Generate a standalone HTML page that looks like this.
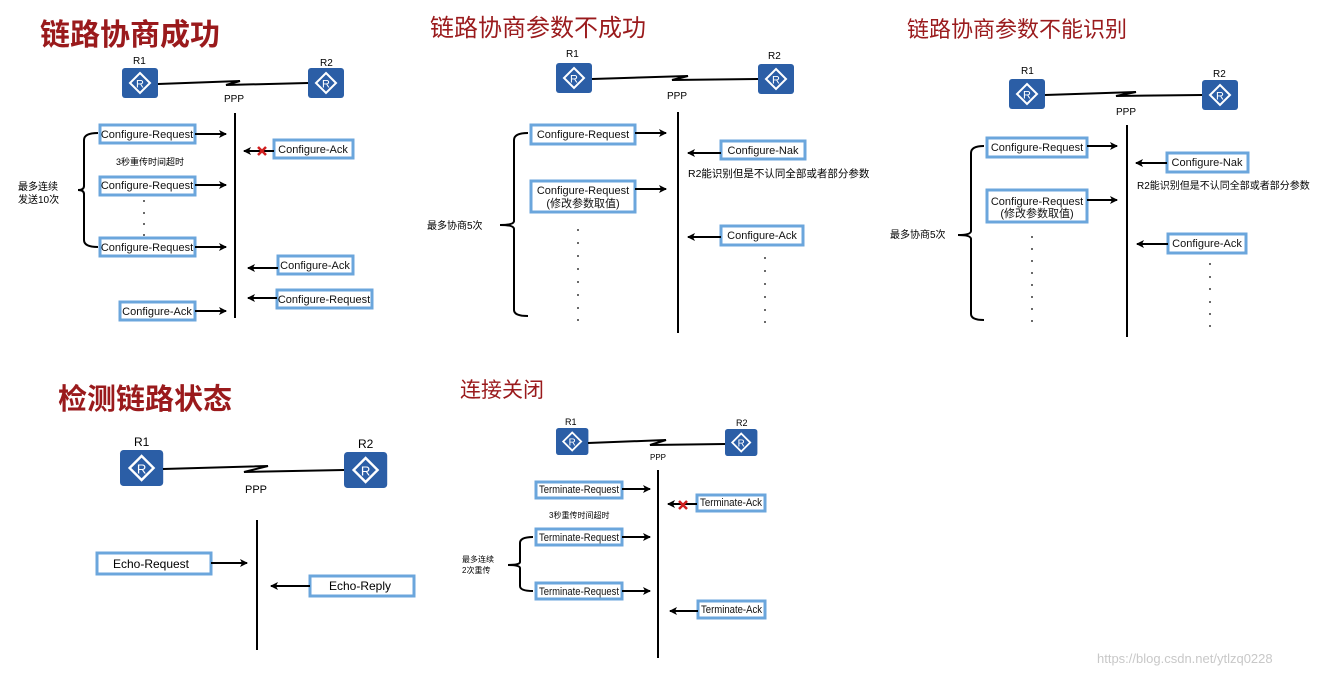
<!DOCTYPE html>
<html><head><meta charset="utf-8"><style>
html,body{margin:0;padding:0;background:#fff;}
svg{display:block;font-family:"Liberation Sans","Noto Sans CJK SC",sans-serif;}
.t{fill:#9a1a1c;font-family:"Noto Sans CJK SC",sans-serif;}
.b{fill:#fff;stroke:#6ba6dc;stroke-width:3;}
.l{stroke:#000;stroke-width:2;fill:none;}
.s{font-size:11px;fill:#111;}
</style></head><body>
<svg width="1319" height="676" viewBox="0 0 1319 676">
<defs>
<marker id="a" markerWidth="8" markerHeight="8" refX="7" refY="4" orient="auto" markerUnits="userSpaceOnUse"><path d="M0,0 L8,4 L0,8 L2,4z" fill="#000"/></marker>
<g id="r"><rect x="0" y="0" width="36" height="30" rx="3" fill="#2b5ea6"/><path d="M18,5 L28,15 L18,25 L8,15z" fill="none" stroke="#fff" stroke-width="2"/><text x="18" y="19.5" font-size="11" fill="#fff" text-anchor="middle">R</text></g>
<g id="x"><path d="M-4,-4 L4,4 M4,-4 L-4,4" stroke="#d02020" stroke-width="2.5"/></g>
</defs>

<!-- Panel 1 -->
<text class="t" x="40" y="45" font-size="30" font-weight="bold">链路协商成功</text>
<text x="133" y="64" font-size="10">R1</text><text x="320" y="66" font-size="10">R2</text>
<use href="#r" x="122" y="68"/><use href="#r" x="308" y="68"/>
<path class="l" d="M158,84 L240,81 L226,85 L308,83" stroke-width="1.5"/>
<text x="224" y="102" font-size="10">PPP</text>
<line class="l" x1="235" y1="113" x2="235" y2="318"/>
<rect class="b" x="100" y="125" width="95" height="18"/><text class="s" x="147" y="138" text-anchor="middle" font-size="10">Configure-Request</text>
<line class="l" x1="195" y1="134" x2="226" y2="134" marker-end="url(#a)"/>
<rect class="b" x="274" y="140" width="79" height="18"/><text class="s" x="313" y="153" text-anchor="middle" font-size="10">Configure-Ack</text>
<line class="l" x1="274" y1="151" x2="244" y2="151" marker-end="url(#a)"/><use href="#x" x="262" y="151"/>
<text x="116" y="165" font-size="9">3秒重传时间超时</text>
<rect class="b" x="100" y="177" width="95" height="18"/><text class="s" x="147" y="189" text-anchor="middle" font-size="10">Configure-Request</text>
<line class="l" x1="195" y1="185" x2="226" y2="185" marker-end="url(#a)"/>
<g fill="#000"><circle cx="144" cy="201" r="0.9"/><circle cx="144" cy="213" r="0.9"/><circle cx="144" cy="224" r="0.9"/><circle cx="144" cy="235" r="0.9"/></g>
<rect class="b" x="100" y="238" width="95" height="18"/><text class="s" x="147" y="251" text-anchor="middle" font-size="10">Configure-Request</text>
<line class="l" x1="195" y1="247" x2="226" y2="247" marker-end="url(#a)"/>
<path class="l" stroke-width="1.5" d="M98,133 Q84,133 84,140 L84,186 Q84,190 78,190 Q84,190 84,194 L84,240 Q84,247 98,247"/>
<text x="18" y="190" font-size="10">最多连续</text><text x="18" y="203" font-size="10">发送10次</text>
<rect class="b" x="278" y="256" width="75" height="18"/><text class="s" x="315" y="269" text-anchor="middle" font-size="10">Configure-Ack</text>
<line class="l" x1="278" y1="268" x2="248" y2="268" marker-end="url(#a)"/>
<rect class="b" x="277" y="290" width="95" height="18"/><text class="s" x="324" y="303" text-anchor="middle" font-size="10">Configure-Request</text>
<line class="l" x1="277" y1="298" x2="248" y2="298" marker-end="url(#a)"/>
<rect class="b" x="120" y="302" width="75" height="18"/><text class="s" x="157" y="315" text-anchor="middle" font-size="10">Configure-Ack</text>
<line class="l" x1="195" y1="311" x2="226" y2="311" marker-end="url(#a)"/>

<!-- Panel 2 -->
<text class="t" x="430" y="36" font-size="24">链路协商参数不成功</text>
<text x="566" y="57" font-size="10">R1</text><text x="768" y="59" font-size="10">R2</text>
<use href="#r" x="556" y="63"/><use href="#r" x="758" y="64"/>
<path class="l" d="M592,79 L688,76 L672,80 L758,79" stroke-width="1.5"/>
<text x="667" y="99" font-size="10">PPP</text>
<line class="l" x1="678" y1="112" x2="678" y2="333"/>
<rect class="b" x="531" y="125" width="104" height="19"/><text class="s" x="583" y="138" text-anchor="middle">Configure-Request</text>
<line class="l" x1="635" y1="133" x2="666" y2="133" marker-end="url(#a)"/>
<rect class="b" x="721" y="141" width="84" height="18"/><text class="s" x="763" y="154" text-anchor="middle">Configure-Nak</text>
<line class="l" x1="721" y1="153" x2="688" y2="153" marker-end="url(#a)"/>
<text x="688" y="177" font-size="10.5">R2能识别但是不认同全部或者部分参数</text>
<rect class="b" x="531" y="181" width="104" height="31"/><text class="s" x="583" y="194" text-anchor="middle">Configure-Request</text><text class="s" x="583" y="207" text-anchor="middle">(修改参数取值)</text>
<line class="l" x1="635" y1="189" x2="666" y2="189" marker-end="url(#a)"/>
<g fill="#000"><circle cx="578" cy="230" r="0.9"/><circle cx="578" cy="243" r="0.9"/><circle cx="578" cy="256" r="0.9"/><circle cx="578" cy="269" r="0.9"/><circle cx="578" cy="282" r="0.9"/><circle cx="578" cy="295" r="0.9"/><circle cx="578" cy="308" r="0.9"/><circle cx="578" cy="320" r="0.9"/></g>
<rect class="b" x="721" y="226" width="82" height="19"/><text class="s" x="762" y="239" text-anchor="middle">Configure-Ack</text>
<line class="l" x1="721" y1="237" x2="688" y2="237" marker-end="url(#a)"/>
<g fill="#000"><circle cx="765" cy="258" r="0.9"/><circle cx="765" cy="271" r="0.9"/><circle cx="765" cy="284" r="0.9"/><circle cx="765" cy="297" r="0.9"/><circle cx="765" cy="310" r="0.9"/><circle cx="765" cy="322" r="0.9"/></g>
<path class="l" stroke-width="1.5" d="M528,133 Q514,133 514,140 L514,221 Q514,225 500,225 Q514,225 514,229 L514,310 Q514,316 528,316"/>
<text x="427" y="229" font-size="10">最多协商5次</text>

<!-- Panel 3 -->
<text class="t" x="907" y="37" font-size="22">链路协商参数不能识别</text>
<text x="1021" y="74" font-size="10">R1</text><text x="1213" y="77" font-size="10">R2</text>
<use href="#r" x="1009" y="79"/><use href="#r" x="1202" y="80"/>
<path class="l" d="M1045,95 L1136,92 L1116,96 L1202,95" stroke-width="1.5"/>
<text x="1116" y="115" font-size="10">PPP</text>
<line class="l" x1="1127" y1="125" x2="1127" y2="337"/>
<rect class="b" x="987" y="138" width="100" height="19"/><text class="s" x="1037" y="151" text-anchor="middle" font-size="10">Configure-Request</text>
<line class="l" x1="1087" y1="146" x2="1117" y2="146" marker-end="url(#a)"/>
<rect class="b" x="1167" y="153" width="81" height="19"/><text class="s" x="1207" y="166" text-anchor="middle">Configure-Nak</text>
<line class="l" x1="1167" y1="163" x2="1136" y2="163" marker-end="url(#a)"/>
<text x="1137" y="189" font-size="10">R2能识别但是不认同全部或者部分参数</text>
<rect class="b" x="987" y="190" width="100" height="32"/><text class="s" x="1037" y="205" text-anchor="middle" font-size="10">Configure-Request</text><text class="s" x="1037" y="217" text-anchor="middle" font-size="10">(修改参数取值)</text>
<line class="l" x1="1087" y1="200" x2="1117" y2="200" marker-end="url(#a)"/>
<g fill="#000"><circle cx="1032" cy="237" r="0.9"/><circle cx="1032" cy="249" r="0.9"/><circle cx="1032" cy="261" r="0.9"/><circle cx="1032" cy="273" r="0.9"/><circle cx="1032" cy="285" r="0.9"/><circle cx="1032" cy="297" r="0.9"/><circle cx="1032" cy="309" r="0.9"/><circle cx="1032" cy="321" r="0.9"/></g>
<rect class="b" x="1168" y="234" width="78" height="19"/><text class="s" x="1207" y="247" text-anchor="middle">Configure-Ack</text>
<line class="l" x1="1168" y1="244" x2="1137" y2="244" marker-end="url(#a)"/>
<g fill="#000"><circle cx="1210" cy="264" r="0.9"/><circle cx="1210" cy="277" r="0.9"/><circle cx="1210" cy="289" r="0.9"/><circle cx="1210" cy="302" r="0.9"/><circle cx="1210" cy="314" r="0.9"/><circle cx="1210" cy="326" r="0.9"/></g>
<path class="l" stroke-width="1.5" d="M984,146 Q971,146 971,153 L971,231 Q971,235 958,235 Q971,235 971,239 L971,314 Q971,320 984,320"/>
<text x="890" y="238" font-size="10">最多协商5次</text>

<!-- Panel 4 -->
<text class="t" x="58" y="409" font-size="29" font-weight="bold">检测链路状态</text>
<text x="134" y="446" font-size="12">R1</text><text x="358" y="448" font-size="12">R2</text>
<g transform="translate(120,450) scale(1.2)"><use href="#r"/></g>
<g transform="translate(344,452) scale(1.2)"><use href="#r"/></g>
<path class="l" d="M163,469 L268,466 L244,472 L344,470" stroke-width="1.5"/>
<text x="245" y="493" font-size="11">PPP</text>
<line class="l" x1="257" y1="520" x2="257" y2="650"/>
<rect class="b" x="97" y="553" width="114" height="21"/><text x="151" y="568" font-size="12" text-anchor="middle">Echo-Request</text>
<line class="l" x1="211" y1="563" x2="247" y2="563" marker-end="url(#a)"/>
<rect class="b" x="310" y="576" width="104" height="20"/><text x="360" y="590" font-size="12" text-anchor="middle">Echo-Reply</text>
<line class="l" x1="310" y1="586" x2="271" y2="586" marker-end="url(#a)"/>

<!-- Panel 5 -->
<text class="t" x="460" y="397" font-size="21">连接关闭</text>
<text x="565" y="425" font-size="9">R1</text><text x="736" y="426" font-size="9">R2</text>
<g transform="translate(556,428) scale(0.9)"><use href="#r"/></g>
<g transform="translate(725,429) scale(0.9)"><use href="#r"/></g>
<path class="l" d="M588,443 L666,440 L650,445 L725,444" stroke-width="1.5"/>
<text x="650" y="460" font-size="8">PPP</text>
<line class="l" x1="658" y1="470" x2="658" y2="658"/>
<rect class="b" x="536" y="482" width="86" height="16"/><text class="s" x="539" y="493" font-size="8" textLength="80" lengthAdjust="spacingAndGlyphs">Terminate-Request</text>
<line class="l" x1="622" y1="489" x2="650" y2="489" marker-end="url(#a)"/>
<rect class="b" x="697" y="495" width="68" height="16"/><text class="s" x="700" y="506" font-size="8" textLength="62" lengthAdjust="spacingAndGlyphs">Terminate-Ack</text>
<line class="l" x1="697" y1="504" x2="668" y2="504" marker-end="url(#a)"/><use href="#x" x="683" y="505"/>
<text x="549" y="518" font-size="8">3秒重传时间超时</text>
<rect class="b" x="536" y="529" width="86" height="16"/><text class="s" x="539" y="541" font-size="8" textLength="80" lengthAdjust="spacingAndGlyphs">Terminate-Request</text>
<line class="l" x1="622" y1="537" x2="650" y2="537" marker-end="url(#a)"/>
<rect class="b" x="536" y="583" width="86" height="16"/><text class="s" x="539" y="595" font-size="8" textLength="80" lengthAdjust="spacingAndGlyphs">Terminate-Request</text>
<line class="l" x1="622" y1="591" x2="650" y2="591" marker-end="url(#a)"/>
<path class="l" stroke-width="1.5" d="M533,537 Q520,537 520,543 L520,562 Q520,565 508,565 Q520,565 520,568 L520,586 Q520,591 533,591"/>
<text x="462" y="562" font-size="8">最多连续</text><text x="462" y="573" font-size="8">2次重传</text>
<rect class="b" x="698" y="601" width="67" height="17"/><text class="s" x="701" y="613" font-size="8" textLength="61" lengthAdjust="spacingAndGlyphs">Terminate-Ack</text>
<line class="l" x1="698" y1="611" x2="670" y2="611" marker-end="url(#a)"/>

<text x="1097" y="663" font-size="13" fill="#c8c8c8">https://blog.csdn.net/ytlzq0228</text>
</svg>
</body></html>
